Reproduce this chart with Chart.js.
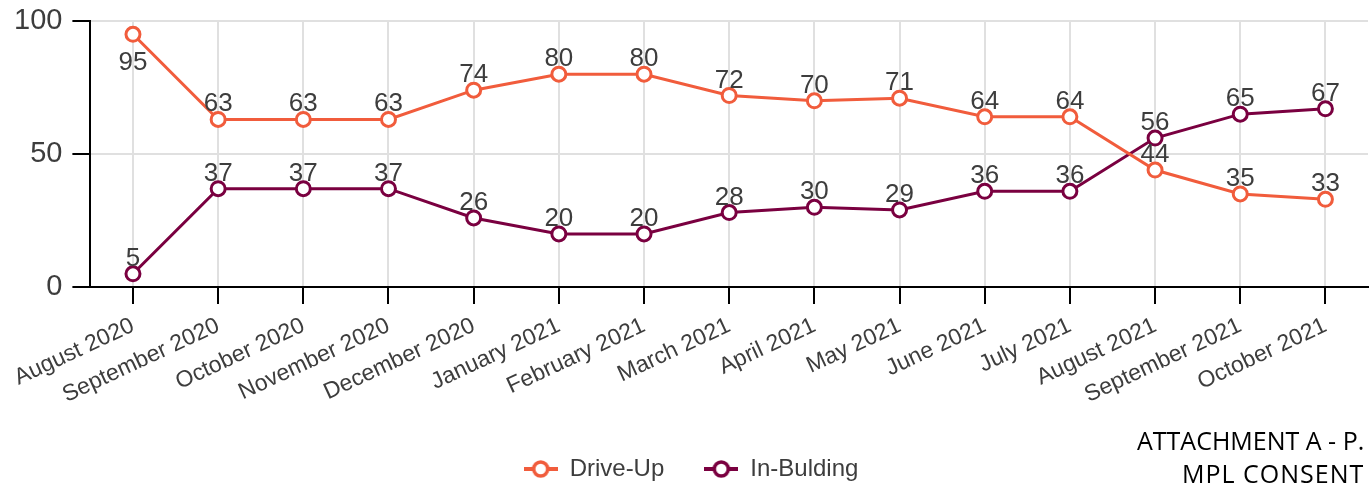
<!DOCTYPE html>
<html>
<head>
<meta charset="utf-8">
<script src="https://cdn.jsdelivr.net/npm/chart.js@4/dist/chart.umd.min.js"></script>
<style>
  html, body { margin: 0; padding: 0; background: #fff; overflow: hidden; }
  #wrap { position: relative; width: 1372px; height: 483px; overflow: hidden; }
  #note {
    position: absolute; left: 1137px; top: 424px; width: 300px;
    font-family: "Open Sans", "Liberation Sans", sans-serif; font-size: 25px;
    line-height: 33px; color: #000; white-space: nowrap;
  }
  #note span { padding-left: 45px; letter-spacing: 1px; }
</style>
</head>
<body>
<div id="wrap">
  <canvas id="chart" width="1378" height="490"></canvas>
  <div id="note">ATTACHMENT A - P.<br><span>MPL CONSENT</span></div>
</div>
<script>
const months = [
  'August 2020', 'September 2020', 'October 2020', 'November 2020', 'December 2020',
  'January 2021', 'February 2021', 'March 2021', 'April 2021', 'May 2021',
  'June 2021', 'July 2021', 'August 2021', 'September 2021', 'October 2021',
];
const driveUp = [95, 63, 63, 63, 74, 80, 80, 72, 70, 71, 64, 64, 44, 35, 33];
const inBuilding = [5, 37, 37, 37, 26, 20, 20, 28, 30, 29, 36, 36, 56, 65, 67];
const yTicks = [0, 50, 100];

const ORANGE = '#f15c3c';
const MAROON = '#7a0040';
const TEXT = '#3d3d3d';

function legendIcon(color) {
  const c = document.createElement('canvas');
  c.width = 34;
  c.height = 22;
  const ctx = c.getContext('2d');
  ctx.strokeStyle = color;
  ctx.lineWidth = 4;
  ctx.beginPath();
  ctx.moveTo(0, 11);
  ctx.lineTo(34, 11);
  ctx.stroke();
  ctx.beginPath();
  ctx.arc(17, 11, 7, 0, Math.PI * 2);
  ctx.fillStyle = '#fff';
  ctx.fill();
  ctx.lineWidth = 3.5;
  ctx.stroke();
  return c;
}

// draws the value above each point (below when it would leave the chart area)
const valueLabels = {
  id: 'valueLabels',
  afterDatasetsDraw(chart) {
    const ctx = chart.ctx;
    ctx.save();
    ctx.font = '26px "Liberation Sans", Arial, sans-serif';
    ctx.fillStyle = TEXT;
    ctx.textAlign = 'center';
    ctx.textBaseline = 'alphabetic';
    chart.data.datasets.forEach((ds, i) => {
      chart.getDatasetMeta(i).data.forEach((pt, j) => {
        let y = pt.y - 8;
        if (y - 18 < chart.chartArea.top) y = pt.y + 36;
        ctx.fillText(String(ds.data[j]), pt.x, y);
      });
    });
    ctx.restore();
  },
};

const fontFamily = '"Liberation Sans", Arial, sans-serif';

new Chart(document.getElementById('chart'), {
  type: 'line',
  data: {
    labels: months,
    datasets: [
      {
        label: 'Drive-Up',
        data: driveUp,
        borderColor: ORANGE,
        backgroundColor: '#fff',
        borderWidth: 3,
        pointRadius: 7,
        pointBorderWidth: 3,
        pointBackgroundColor: '#fff',
        pointBorderColor: ORANGE,
        tension: 0,
      },
      {
        label: 'In-Bulding',
        data: inBuilding,
        borderColor: MAROON,
        backgroundColor: '#fff',
        borderWidth: 3,
        pointRadius: 7,
        pointBorderWidth: 3,
        pointBackgroundColor: '#fff',
        pointBorderColor: MAROON,
        tension: 0,
      },
    ],
  },
  options: {
    responsive: false,
    animation: false,
    layout: { padding: { left: 4, right: 0, top: 21, bottom: -1 } },
    plugins: {
      legend: {
        position: 'bottom',
        labels: {
          color: TEXT,
          font: { family: fontFamily, size: 24 },
          usePointStyle: true,
          pointStyleWidth: 34,
          padding: 40,
          generateLabels(chart) {
            return chart.data.datasets.map((ds, i) => ({
              text: ds.label,
              pointStyle: legendIcon(ds.borderColor),
              fillStyle: ds.borderColor,
              strokeStyle: ds.borderColor,
              fontColor: TEXT,
              hidden: !chart.isDatasetVisible(i),
              datasetIndex: i,
            }));
          },
        },
      },
      tooltip: { enabled: false },
    },
    scales: {
      x: {
        offset: true,
        grid: { color: '#e0e0e0', offset: false, tickColor: '#000', tickLength: 17, lineWidth: 2 },
        border: { color: '#000', width: 2 },
        ticks: {
          color: TEXT,
          font: { family: fontFamily, size: 23 },
          minRotation: 25,
          maxRotation: 25,
          autoSkip: false,
          padding: 8,
        },
      },
      y: {
        min: 0,
        max: 100,
        afterBuildTicks(axis) {
          axis.ticks = yTicks.map((v) => ({ value: v }));
        },
        grid: { color: '#e0e0e0', tickColor: '#000', tickLength: 18, lineWidth: 2 },
        border: { color: '#000', width: 2 },
        ticks: {
          color: TEXT,
          font: { family: fontFamily, size: 29, lineHeight: 0.72 },
          padding: 10,
        },
      },
    },
  },
  plugins: [valueLabels],
});
</script>
</body>
</html>
